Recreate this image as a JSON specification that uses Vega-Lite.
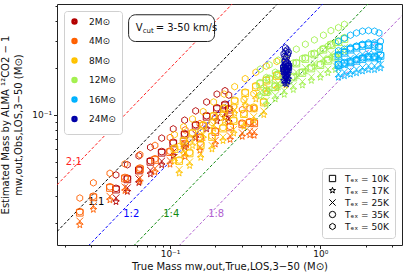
{
 "$schema":"https://vega.github.io/schema/vega-lite/v6.json",
 "width":345,"height":241,
 "autosize":{"type":"none"},
 "padding":{"left":57,"top":4,"right":5,"bottom":31},
 "background":"white",
 "config":{"font":"DejaVu Sans","view":{"stroke":"#222","strokeWidth":1},
  "axis":{"grid":false,"domain":false,"tickColor":"#222","labelColor":"#111","titleColor":"#111","titleFontWeight":"normal","labelFontSize":9,"titleFontSize":10},
  "legend":{"fillColor":"white","strokeColor":"#d0d0d0","cornerRadius":3,"labelFontSize":9,"labelColor":"#111"}
 },
 "datasets":{
  "lines":[
   {"r":"2:1","x":0.0177,"y":0.0354},{"r":"2:1","x":3.49,"y":6.98},
   {"r":"1:1","x":0.0177,"y":0.0177},{"r":"1:1","x":3.49,"y":3.49},
   {"r":"1:2","x":0.0177,"y":0.00885},{"r":"1:2","x":3.49,"y":1.745},
   {"r":"1:4","x":0.0177,"y":0.004425},{"r":"1:4","x":3.49,"y":0.8725},
   {"r":"1:8","x":0.0177,"y":0.0022125},{"r":"1:8","x":3.49,"y":0.43625}
  ],
  "labs":[
   {"r":"2:1","x":0.0229,"y":0.05},{"r":"1:1","x":0.0323,"y":0.0276},{"r":"1:2","x":0.0552,"y":0.0228},{"r":"1:4","x":0.1019,"y":0.0228},{"r":"1:8","x":0.2027,"y":0.0228}
  ],
  "box":[{"x":0.053,"x2":0.1977,"y":0.297,"y2":0.4416}],
  "vt":[{"x":0.0657,"y":0.364}],
  "pts":[
{"m":"2","t":"10","x":0.0437,"y":0.033},{"m":"2","t":"10","x":0.052,"y":0.0384},{"m":"2","t":"10","x":0.062,"y":0.0438},{"m":"2","t":"10","x":0.074,"y":0.0498},{"m":"2","t":"10","x":0.088,"y":0.057},{"m":"2","t":"10","x":0.105,"y":0.0654},{"m":"2","t":"10","x":0.125,"y":0.0744},{"m":"2","t":"10","x":0.148,"y":0.0852},{"m":"2","t":"10","x":0.175,"y":0.0972},{"m":"2","t":"10","x":0.205,"y":0.109},{"m":"2","t":"10","x":0.232,"y":0.115},{"m":"2","t":"10","x":0.246,"y":0.108},
{"m":"2","t":"17","x":0.0437,"y":0.0275},{"m":"2","t":"17","x":0.052,"y":0.032},{"m":"2","t":"17","x":0.062,"y":0.0365},{"m":"2","t":"17","x":0.074,"y":0.0415},{"m":"2","t":"17","x":0.088,"y":0.0475},{"m":"2","t":"17","x":0.105,"y":0.0545},{"m":"2","t":"17","x":0.125,"y":0.062},{"m":"2","t":"17","x":0.148,"y":0.071},{"m":"2","t":"17","x":0.175,"y":0.081},{"m":"2","t":"17","x":0.205,"y":0.091},{"m":"2","t":"17","x":0.232,"y":0.096},{"m":"2","t":"17","x":0.246,"y":0.09},
{"m":"2","t":"25","x":0.0437,"y":0.0292},{"m":"2","t":"25","x":0.052,"y":0.0339},{"m":"2","t":"25","x":0.062,"y":0.0387},{"m":"2","t":"25","x":0.074,"y":0.044},{"m":"2","t":"25","x":0.088,"y":0.0504},{"m":"2","t":"25","x":0.105,"y":0.0578},{"m":"2","t":"25","x":0.125,"y":0.0657},{"m":"2","t":"25","x":0.148,"y":0.0753},{"m":"2","t":"25","x":0.175,"y":0.0859},{"m":"2","t":"25","x":0.205,"y":0.0965},{"m":"2","t":"25","x":0.232,"y":0.102},{"m":"2","t":"25","x":0.246,"y":0.0954},
{"m":"2","t":"35","x":0.0437,"y":0.0336},{"m":"2","t":"35","x":0.052,"y":0.039},{"m":"2","t":"35","x":0.062,"y":0.0445},{"m":"2","t":"35","x":0.074,"y":0.0506},{"m":"2","t":"35","x":0.088,"y":0.058},{"m":"2","t":"35","x":0.105,"y":0.0665},{"m":"2","t":"35","x":0.125,"y":0.0756},{"m":"2","t":"35","x":0.148,"y":0.0866},{"m":"2","t":"35","x":0.175,"y":0.0988},{"m":"2","t":"35","x":0.205,"y":0.111},{"m":"2","t":"35","x":0.232,"y":0.117},{"m":"2","t":"35","x":0.246,"y":0.11},
{"m":"2","t":"50","x":0.0437,"y":0.041},{"m":"2","t":"50","x":0.052,"y":0.0477},{"m":"2","t":"50","x":0.062,"y":0.0544},{"m":"2","t":"50","x":0.074,"y":0.0618},{"m":"2","t":"50","x":0.088,"y":0.0708},{"m":"2","t":"50","x":0.105,"y":0.0812},{"m":"2","t":"50","x":0.125,"y":0.0924},{"m":"2","t":"50","x":0.148,"y":0.106},{"m":"2","t":"50","x":0.175,"y":0.121},{"m":"2","t":"50","x":0.205,"y":0.136},{"m":"2","t":"50","x":0.232,"y":0.143},{"m":"2","t":"50","x":0.246,"y":0.134},
{"m":"4","t":"10","x":0.0251,"y":0.0234},{"m":"4","t":"10","x":0.0309,"y":0.0294},{"m":"4","t":"10","x":0.0398,"y":0.0338},{"m":"4","t":"10","x":0.0501,"y":0.0389},{"m":"4","t":"10","x":0.0631,"y":0.0446},{"m":"4","t":"10","x":0.0794,"y":0.0512},{"m":"4","t":"10","x":0.1,"y":0.0575},{"m":"4","t":"10","x":0.126,"y":0.0644},{"m":"4","t":"10","x":0.158,"y":0.0707},{"m":"4","t":"10","x":0.2,"y":0.0775},{"m":"4","t":"10","x":0.251,"y":0.083},{"m":"4","t":"10","x":0.302,"y":0.0869},{"m":"4","t":"10","x":0.339,"y":0.0889},{"m":"4","t":"10","x":0.363,"y":0.0882},
{"m":"4","t":"17","x":0.0251,"y":0.0195},{"m":"4","t":"17","x":0.0309,"y":0.0245},{"m":"4","t":"17","x":0.0398,"y":0.0282},{"m":"4","t":"17","x":0.0501,"y":0.0324},{"m":"4","t":"17","x":0.0631,"y":0.0372},{"m":"4","t":"17","x":0.0794,"y":0.0427},{"m":"4","t":"17","x":0.1,"y":0.0479},{"m":"4","t":"17","x":0.126,"y":0.0537},{"m":"4","t":"17","x":0.158,"y":0.0589},{"m":"4","t":"17","x":0.2,"y":0.0646},{"m":"4","t":"17","x":0.251,"y":0.0692},{"m":"4","t":"17","x":0.302,"y":0.0724},{"m":"4","t":"17","x":0.339,"y":0.0741},{"m":"4","t":"17","x":0.363,"y":0.0735},
{"m":"4","t":"25","x":0.0251,"y":0.0207},{"m":"4","t":"25","x":0.0309,"y":0.026},{"m":"4","t":"25","x":0.0398,"y":0.0299},{"m":"4","t":"25","x":0.0501,"y":0.0343},{"m":"4","t":"25","x":0.0631,"y":0.0394},{"m":"4","t":"25","x":0.0794,"y":0.0453},{"m":"4","t":"25","x":0.1,"y":0.0508},{"m":"4","t":"25","x":0.126,"y":0.0569},{"m":"4","t":"25","x":0.158,"y":0.0624},{"m":"4","t":"25","x":0.2,"y":0.0685},{"m":"4","t":"25","x":0.251,"y":0.0734},{"m":"4","t":"25","x":0.302,"y":0.0767},{"m":"4","t":"25","x":0.339,"y":0.0785},{"m":"4","t":"25","x":0.363,"y":0.0779},
{"m":"4","t":"35","x":0.0251,"y":0.0238},{"m":"4","t":"35","x":0.0309,"y":0.0299},{"m":"4","t":"35","x":0.0398,"y":0.0344},{"m":"4","t":"35","x":0.0501,"y":0.0395},{"m":"4","t":"35","x":0.0631,"y":0.0454},{"m":"4","t":"35","x":0.0794,"y":0.0521},{"m":"4","t":"35","x":0.1,"y":0.0584},{"m":"4","t":"35","x":0.126,"y":0.0655},{"m":"4","t":"35","x":0.158,"y":0.0719},{"m":"4","t":"35","x":0.2,"y":0.0788},{"m":"4","t":"35","x":0.251,"y":0.0844},{"m":"4","t":"35","x":0.302,"y":0.0883},{"m":"4","t":"35","x":0.339,"y":0.0904},{"m":"4","t":"35","x":0.363,"y":0.0897},
{"m":"4","t":"50","x":0.0251,"y":0.0291},{"m":"4","t":"50","x":0.0309,"y":0.0365},{"m":"4","t":"50","x":0.0398,"y":0.042},{"m":"4","t":"50","x":0.0501,"y":0.0483},{"m":"4","t":"50","x":0.0631,"y":0.0554},{"m":"4","t":"50","x":0.0794,"y":0.0636},{"m":"4","t":"50","x":0.1,"y":0.0714},{"m":"4","t":"50","x":0.126,"y":0.08},{"m":"4","t":"50","x":0.158,"y":0.0878},{"m":"4","t":"50","x":0.2,"y":0.0963},{"m":"4","t":"50","x":0.251,"y":0.103},{"m":"4","t":"50","x":0.302,"y":0.108},{"m":"4","t":"50","x":0.339,"y":0.11},{"m":"4","t":"50","x":0.363,"y":0.11},
{"m":"8","t":"10","x":0.107,"y":0.0601},{"m":"8","t":"10","x":0.123,"y":0.0674},{"m":"8","t":"10","x":0.141,"y":0.0757},{"m":"8","t":"10","x":0.166,"y":0.085},{"m":"8","t":"10","x":0.195,"y":0.0976},{"m":"8","t":"10","x":0.229,"y":0.109},{"m":"8","t":"10","x":0.269,"y":0.122},{"m":"8","t":"10","x":0.316,"y":0.138},{"m":"8","t":"10","x":0.372,"y":0.151},{"m":"8","t":"10","x":0.437,"y":0.166},{"m":"8","t":"10","x":0.513,"y":0.178},{"m":"8","t":"10","x":0.589,"y":0.186},
{"m":"8","t":"10","x":0.115,"y":0.0504},{"m":"8","t":"10","x":0.135,"y":0.0564},{"m":"8","t":"10","x":0.16,"y":0.0636},{"m":"8","t":"10","x":0.19,"y":0.072},{"m":"8","t":"10","x":0.225,"y":0.0816},{"m":"8","t":"10","x":0.265,"y":0.0912},{"m":"8","t":"10","x":0.31,"y":0.101},{"m":"8","t":"10","x":0.36,"y":0.11},{"m":"8","t":"10","x":0.42,"y":0.12},
{"m":"8","t":"17","x":0.107,"y":0.0501},{"m":"8","t":"17","x":0.123,"y":0.0562},{"m":"8","t":"17","x":0.141,"y":0.0631},{"m":"8","t":"17","x":0.166,"y":0.0708},{"m":"8","t":"17","x":0.195,"y":0.0813},{"m":"8","t":"17","x":0.229,"y":0.0912},{"m":"8","t":"17","x":0.269,"y":0.102},{"m":"8","t":"17","x":0.316,"y":0.115},{"m":"8","t":"17","x":0.372,"y":0.126},{"m":"8","t":"17","x":0.437,"y":0.138},{"m":"8","t":"17","x":0.513,"y":0.148},{"m":"8","t":"17","x":0.589,"y":0.155},
{"m":"8","t":"17","x":0.115,"y":0.042},{"m":"8","t":"17","x":0.135,"y":0.047},{"m":"8","t":"17","x":0.16,"y":0.053},{"m":"8","t":"17","x":0.19,"y":0.06},{"m":"8","t":"17","x":0.225,"y":0.068},{"m":"8","t":"17","x":0.265,"y":0.076},{"m":"8","t":"17","x":0.31,"y":0.084},{"m":"8","t":"17","x":0.36,"y":0.092},{"m":"8","t":"17","x":0.42,"y":0.1},
{"m":"8","t":"25","x":0.107,"y":0.0531},{"m":"8","t":"25","x":0.123,"y":0.0596},{"m":"8","t":"25","x":0.141,"y":0.0669},{"m":"8","t":"25","x":0.166,"y":0.075},{"m":"8","t":"25","x":0.195,"y":0.0862},{"m":"8","t":"25","x":0.229,"y":0.0967},{"m":"8","t":"25","x":0.269,"y":0.108},{"m":"8","t":"25","x":0.316,"y":0.122},{"m":"8","t":"25","x":0.372,"y":0.134},{"m":"8","t":"25","x":0.437,"y":0.146},{"m":"8","t":"25","x":0.513,"y":0.157},{"m":"8","t":"25","x":0.589,"y":0.164},
{"m":"8","t":"25","x":0.115,"y":0.0445},{"m":"8","t":"25","x":0.135,"y":0.0498},{"m":"8","t":"25","x":0.16,"y":0.0562},{"m":"8","t":"25","x":0.19,"y":0.0636},{"m":"8","t":"25","x":0.225,"y":0.0721},{"m":"8","t":"25","x":0.265,"y":0.0806},{"m":"8","t":"25","x":0.31,"y":0.089},{"m":"8","t":"25","x":0.36,"y":0.0975},{"m":"8","t":"25","x":0.42,"y":0.106},
{"m":"8","t":"35","x":0.107,"y":0.0611},{"m":"8","t":"35","x":0.123,"y":0.0686},{"m":"8","t":"35","x":0.141,"y":0.077},{"m":"8","t":"35","x":0.166,"y":0.0864},{"m":"8","t":"35","x":0.195,"y":0.0992},{"m":"8","t":"35","x":0.229,"y":0.111},{"m":"8","t":"35","x":0.269,"y":0.124},{"m":"8","t":"35","x":0.316,"y":0.14},{"m":"8","t":"35","x":0.372,"y":0.154},{"m":"8","t":"35","x":0.437,"y":0.168},{"m":"8","t":"35","x":0.513,"y":0.181},{"m":"8","t":"35","x":0.589,"y":0.189},
{"m":"8","t":"35","x":0.115,"y":0.0512},{"m":"8","t":"35","x":0.135,"y":0.0573},{"m":"8","t":"35","x":0.16,"y":0.0647},{"m":"8","t":"35","x":0.19,"y":0.0732},{"m":"8","t":"35","x":0.225,"y":0.083},{"m":"8","t":"35","x":0.265,"y":0.0927},{"m":"8","t":"35","x":0.31,"y":0.102},{"m":"8","t":"35","x":0.36,"y":0.112},{"m":"8","t":"35","x":0.42,"y":0.122},
{"m":"8","t":"50","x":0.107,"y":0.0746},{"m":"8","t":"50","x":0.123,"y":0.0837},{"m":"8","t":"50","x":0.141,"y":0.094},{"m":"8","t":"50","x":0.166,"y":0.105},{"m":"8","t":"50","x":0.195,"y":0.121},{"m":"8","t":"50","x":0.229,"y":0.136},{"m":"8","t":"50","x":0.269,"y":0.152},{"m":"8","t":"50","x":0.316,"y":0.171},{"m":"8","t":"50","x":0.372,"y":0.188},{"m":"8","t":"50","x":0.437,"y":0.206},{"m":"8","t":"50","x":0.513,"y":0.221},{"m":"8","t":"50","x":0.589,"y":0.231},
{"m":"8","t":"50","x":0.115,"y":0.0626},{"m":"8","t":"50","x":0.135,"y":0.07},{"m":"8","t":"50","x":0.16,"y":0.079},{"m":"8","t":"50","x":0.19,"y":0.0894},{"m":"8","t":"50","x":0.225,"y":0.101},{"m":"8","t":"50","x":0.265,"y":0.113},{"m":"8","t":"50","x":0.31,"y":0.125},{"m":"8","t":"50","x":0.36,"y":0.137},{"m":"8","t":"50","x":0.42,"y":0.149},
{"m":"12","t":"10","x":0.398,"y":0.158},{"m":"12","t":"10","x":0.457,"y":0.169},{"m":"12","t":"10","x":0.525,"y":0.181},{"m":"12","t":"10","x":0.603,"y":0.199},{"m":"12","t":"10","x":0.692,"y":0.214},{"m":"12","t":"10","x":0.794,"y":0.229},{"m":"12","t":"10","x":0.912,"y":0.245},{"m":"12","t":"10","x":1.047,"y":0.263},{"m":"12","t":"10","x":1.175,"y":0.281},{"m":"12","t":"10","x":1.318,"y":0.294},{"m":"12","t":"10","x":1.445,"y":0.308},
{"m":"12","t":"10","x":0.437,"y":0.14},{"m":"12","t":"10","x":0.501,"y":0.151},{"m":"12","t":"10","x":0.575,"y":0.162},{"m":"12","t":"10","x":0.661,"y":0.174},{"m":"12","t":"10","x":0.759,"y":0.186},{"m":"12","t":"10","x":0.871,"y":0.199},{"m":"12","t":"10","x":1.0,"y":0.209},{"m":"12","t":"10","x":1.122,"y":0.223},{"m":"12","t":"10","x":1.259,"y":0.234},
{"m":"12","t":"17","x":0.398,"y":0.132},{"m":"12","t":"17","x":0.457,"y":0.141},{"m":"12","t":"17","x":0.525,"y":0.151},{"m":"12","t":"17","x":0.603,"y":0.166},{"m":"12","t":"17","x":0.692,"y":0.178},{"m":"12","t":"17","x":0.794,"y":0.191},{"m":"12","t":"17","x":0.912,"y":0.204},{"m":"12","t":"17","x":1.047,"y":0.219},{"m":"12","t":"17","x":1.175,"y":0.234},{"m":"12","t":"17","x":1.318,"y":0.245},{"m":"12","t":"17","x":1.445,"y":0.257},
{"m":"12","t":"17","x":0.437,"y":0.117},{"m":"12","t":"17","x":0.501,"y":0.126},{"m":"12","t":"17","x":0.575,"y":0.135},{"m":"12","t":"17","x":0.661,"y":0.145},{"m":"12","t":"17","x":0.759,"y":0.155},{"m":"12","t":"17","x":0.871,"y":0.166},{"m":"12","t":"17","x":1.0,"y":0.174},{"m":"12","t":"17","x":1.122,"y":0.186},{"m":"12","t":"17","x":1.259,"y":0.195},
{"m":"12","t":"25","x":0.398,"y":0.14},{"m":"12","t":"25","x":0.457,"y":0.149},{"m":"12","t":"25","x":0.525,"y":0.16},{"m":"12","t":"25","x":0.603,"y":0.176},{"m":"12","t":"25","x":0.692,"y":0.189},{"m":"12","t":"25","x":0.794,"y":0.202},{"m":"12","t":"25","x":0.912,"y":0.216},{"m":"12","t":"25","x":1.047,"y":0.232},{"m":"12","t":"25","x":1.175,"y":0.248},{"m":"12","t":"25","x":1.318,"y":0.26},{"m":"12","t":"25","x":1.445,"y":0.272},
{"m":"12","t":"25","x":0.437,"y":0.124},{"m":"12","t":"25","x":0.501,"y":0.134},{"m":"12","t":"25","x":0.575,"y":0.143},{"m":"12","t":"25","x":0.661,"y":0.154},{"m":"12","t":"25","x":0.759,"y":0.164},{"m":"12","t":"25","x":0.871,"y":0.176},{"m":"12","t":"25","x":1.0,"y":0.184},{"m":"12","t":"25","x":1.122,"y":0.197},{"m":"12","t":"25","x":1.259,"y":0.207},
{"m":"12","t":"35","x":0.398,"y":0.161},{"m":"12","t":"35","x":0.457,"y":0.172},{"m":"12","t":"35","x":0.525,"y":0.184},{"m":"12","t":"35","x":0.603,"y":0.203},{"m":"12","t":"35","x":0.692,"y":0.217},{"m":"12","t":"35","x":0.794,"y":0.233},{"m":"12","t":"35","x":0.912,"y":0.249},{"m":"12","t":"35","x":1.047,"y":0.267},{"m":"12","t":"35","x":1.175,"y":0.285},{"m":"12","t":"35","x":1.318,"y":0.299},{"m":"12","t":"35","x":1.445,"y":0.314},
{"m":"12","t":"35","x":0.437,"y":0.143},{"m":"12","t":"35","x":0.501,"y":0.154},{"m":"12","t":"35","x":0.575,"y":0.165},{"m":"12","t":"35","x":0.661,"y":0.177},{"m":"12","t":"35","x":0.759,"y":0.189},{"m":"12","t":"35","x":0.871,"y":0.203},{"m":"12","t":"35","x":1.0,"y":0.212},{"m":"12","t":"35","x":1.122,"y":0.227},{"m":"12","t":"35","x":1.259,"y":0.238},
{"m":"12","t":"50","x":0.398,"y":0.197},{"m":"12","t":"50","x":0.457,"y":0.21},{"m":"12","t":"50","x":0.525,"y":0.225},{"m":"12","t":"50","x":0.603,"y":0.247},{"m":"12","t":"50","x":0.692,"y":0.265},{"m":"12","t":"50","x":0.794,"y":0.285},{"m":"12","t":"50","x":0.912,"y":0.304},{"m":"12","t":"50","x":1.047,"y":0.326},{"m":"12","t":"50","x":1.175,"y":0.349},{"m":"12","t":"50","x":1.318,"y":0.365},{"m":"12","t":"50","x":1.445,"y":0.383},
{"m":"12","t":"50","x":0.437,"y":0.174},{"m":"12","t":"50","x":0.501,"y":0.188},{"m":"12","t":"50","x":0.575,"y":0.201},{"m":"12","t":"50","x":0.661,"y":0.216},{"m":"12","t":"50","x":0.759,"y":0.231},{"m":"12","t":"50","x":0.871,"y":0.247},{"m":"12","t":"50","x":1.0,"y":0.259},{"m":"12","t":"50","x":1.122,"y":0.277},{"m":"12","t":"50","x":1.259,"y":0.291},
{"m":"16","t":"10","x":1.318,"y":0.24},{"m":"16","t":"10","x":1.445,"y":0.251},{"m":"16","t":"10","x":1.585,"y":0.263},{"m":"16","t":"10","x":1.738,"y":0.271},{"m":"16","t":"10","x":1.905,"y":0.278},{"m":"16","t":"10","x":2.089,"y":0.281},{"m":"16","t":"10","x":2.291,"y":0.278},{"m":"16","t":"10","x":2.455,"y":0.271},
{"m":"16","t":"10","x":1.318,"y":0.209},{"m":"16","t":"10","x":1.445,"y":0.214},{"m":"16","t":"10","x":1.585,"y":0.218},{"m":"16","t":"10","x":1.738,"y":0.223},{"m":"16","t":"10","x":1.905,"y":0.229},{"m":"16","t":"10","x":2.089,"y":0.234},{"m":"16","t":"10","x":2.291,"y":0.234},{"m":"16","t":"10","x":2.512,"y":0.24},
{"m":"16","t":"17","x":1.318,"y":0.2},{"m":"16","t":"17","x":1.445,"y":0.209},{"m":"16","t":"17","x":1.585,"y":0.219},{"m":"16","t":"17","x":1.738,"y":0.226},{"m":"16","t":"17","x":1.905,"y":0.232},{"m":"16","t":"17","x":2.089,"y":0.234},{"m":"16","t":"17","x":2.291,"y":0.232},{"m":"16","t":"17","x":2.455,"y":0.226},
{"m":"16","t":"17","x":1.318,"y":0.174},{"m":"16","t":"17","x":1.445,"y":0.178},{"m":"16","t":"17","x":1.585,"y":0.182},{"m":"16","t":"17","x":1.738,"y":0.186},{"m":"16","t":"17","x":1.905,"y":0.191},{"m":"16","t":"17","x":2.089,"y":0.195},{"m":"16","t":"17","x":2.291,"y":0.195},{"m":"16","t":"17","x":2.512,"y":0.2},
{"m":"16","t":"25","x":1.318,"y":0.212},{"m":"16","t":"25","x":1.445,"y":0.222},{"m":"16","t":"25","x":1.585,"y":0.232},{"m":"16","t":"25","x":1.738,"y":0.24},{"m":"16","t":"25","x":1.905,"y":0.246},{"m":"16","t":"25","x":2.089,"y":0.248},{"m":"16","t":"25","x":2.291,"y":0.246},{"m":"16","t":"25","x":2.455,"y":0.24},
{"m":"16","t":"25","x":1.318,"y":0.184},{"m":"16","t":"25","x":1.445,"y":0.189},{"m":"16","t":"25","x":1.585,"y":0.193},{"m":"16","t":"25","x":1.738,"y":0.197},{"m":"16","t":"25","x":1.905,"y":0.202},{"m":"16","t":"25","x":2.089,"y":0.207},{"m":"16","t":"25","x":2.291,"y":0.207},{"m":"16","t":"25","x":2.512,"y":0.212},
{"m":"16","t":"35","x":1.318,"y":0.244},{"m":"16","t":"35","x":1.445,"y":0.255},{"m":"16","t":"35","x":1.585,"y":0.267},{"m":"16","t":"35","x":1.738,"y":0.276},{"m":"16","t":"35","x":1.905,"y":0.283},{"m":"16","t":"35","x":2.089,"y":0.285},{"m":"16","t":"35","x":2.291,"y":0.283},{"m":"16","t":"35","x":2.455,"y":0.276},
{"m":"16","t":"35","x":1.318,"y":0.212},{"m":"16","t":"35","x":1.445,"y":0.217},{"m":"16","t":"35","x":1.585,"y":0.222},{"m":"16","t":"35","x":1.738,"y":0.227},{"m":"16","t":"35","x":1.905,"y":0.233},{"m":"16","t":"35","x":2.089,"y":0.238},{"m":"16","t":"35","x":2.291,"y":0.238},{"m":"16","t":"35","x":2.512,"y":0.244},
{"m":"16","t":"50","x":1.318,"y":0.298},{"m":"16","t":"50","x":1.445,"y":0.311},{"m":"16","t":"50","x":1.585,"y":0.326},{"m":"16","t":"50","x":1.738,"y":0.337},{"m":"16","t":"50","x":1.905,"y":0.346},{"m":"16","t":"50","x":2.089,"y":0.349},{"m":"16","t":"50","x":2.291,"y":0.346},{"m":"16","t":"50","x":2.455,"y":0.337},
{"m":"16","t":"50","x":1.318,"y":0.259},{"m":"16","t":"50","x":1.445,"y":0.265},{"m":"16","t":"50","x":1.585,"y":0.271},{"m":"16","t":"50","x":1.738,"y":0.277},{"m":"16","t":"50","x":1.905,"y":0.285},{"m":"16","t":"50","x":2.089,"y":0.291},{"m":"16","t":"50","x":2.291,"y":0.291},{"m":"16","t":"50","x":2.512,"y":0.298},
{"m":"24","t":"10","x":0.572,"y":0.199},{"m":"24","t":"10","x":0.58,"y":0.192},{"m":"24","t":"10","x":0.588,"y":0.206},{"m":"24","t":"10","x":0.595,"y":0.19},{"m":"24","t":"10","x":0.6,"y":0.211},{"m":"24","t":"10","x":0.606,"y":0.197},{"m":"24","t":"10","x":0.585,"y":0.217},{"m":"24","t":"10","x":0.612,"y":0.204},
{"m":"24","t":"17","x":0.572,"y":0.166},{"m":"24","t":"17","x":0.58,"y":0.16},{"m":"24","t":"17","x":0.588,"y":0.172},{"m":"24","t":"17","x":0.595,"y":0.158},{"m":"24","t":"17","x":0.6,"y":0.176},{"m":"24","t":"17","x":0.606,"y":0.164},{"m":"24","t":"17","x":0.585,"y":0.181},{"m":"24","t":"17","x":0.612,"y":0.17},
{"m":"24","t":"25","x":0.572,"y":0.176},{"m":"24","t":"25","x":0.58,"y":0.17},{"m":"24","t":"25","x":0.588,"y":0.182},{"m":"24","t":"25","x":0.595,"y":0.167},{"m":"24","t":"25","x":0.6,"y":0.187},{"m":"24","t":"25","x":0.606,"y":0.174},{"m":"24","t":"25","x":0.585,"y":0.192},{"m":"24","t":"25","x":0.612,"y":0.18},
{"m":"24","t":"35","x":0.572,"y":0.203},{"m":"24","t":"35","x":0.58,"y":0.195},{"m":"24","t":"35","x":0.588,"y":0.21},{"m":"24","t":"35","x":0.595,"y":0.193},{"m":"24","t":"35","x":0.6,"y":0.215},{"m":"24","t":"35","x":0.606,"y":0.2},{"m":"24","t":"35","x":0.585,"y":0.221},{"m":"24","t":"35","x":0.612,"y":0.207},
{"m":"24","t":"50","x":0.572,"y":0.247},{"m":"24","t":"50","x":0.58,"y":0.238},{"m":"24","t":"50","x":0.588,"y":0.256},{"m":"24","t":"50","x":0.595,"y":0.235},{"m":"24","t":"50","x":0.6,"y":0.262},{"m":"24","t":"50","x":0.606,"y":0.244},{"m":"24","t":"50","x":0.585,"y":0.27},{"m":"24","t":"50","x":0.612,"y":0.253}
  ]
 },
 "encoding":{
  "x":{"field":"x","type":"quantitative","scale":{"type":"log","domain":[0.0177,3.49],"nice":false},
   "axis":{"title":"True Mass mw,out,True,LOS,3−50 (M⊙)","values":[0.02,0.03,0.04,0.05,0.06,0.07,0.08,0.09,0.1,0.2,0.3,0.4,0.5,0.6,0.7,0.8,0.9,1,2,3],
    "labelExpr":"datum.value == 0.1 ? '10⁻¹' : datum.value == 1 ? '10⁰' : ''",
    "tickSize":{"condition":{"test":"datum.value == 0.1 || datum.value == 1","value":3.5},"value":2},
    "labelPadding":1,"titlePadding":3,"labelOverlap":false,"labelFlush":false}},
  "y":{"field":"y","type":"quantitative","scale":{"type":"log","domain":[0.0145,0.518],"nice":false},
   "axis":{"title":["Estimated Mass by ALMA ¹²CO2 − 1","mw,out,Obs,LOS,3−50 (M⊙)"],"values":[0.02,0.03,0.04,0.05,0.06,0.07,0.08,0.09,0.1,0.2,0.3,0.4,0.5],
    "labelExpr":"datum.value == 0.1 ? '10⁻¹' : ''",
    "tickSize":{"condition":{"test":"datum.value == 0.1","value":3.5},"value":2},
    "labelPadding":2,"titlePadding":8,"titleLineHeight":13,"labelOverlap":false,"labelFlush":false}}
 },
 "layer":[
  {"data":{"name":"lines"},"mark":{"type":"line","strokeDash":[3,2],"strokeWidth":1,"clip":true},
   "encoding":{"detail":{"field":"r"},"stroke":{"field":"r","type":"nominal","scale":{"domain":["2:1","1:1","1:2","1:4","1:8"],"range":["#ff1f1f","#000000","#0000ff","#108a10","#b060d0"]},"legend":null}}},
  {"data":{"name":"labs"},"mark":{"type":"text","fontSize":10},
   "encoding":{"text":{"field":"r"},"fill":{"field":"r","type":"nominal","scale":{"domain":["2:1","1:1","1:2","1:4","1:8"],"range":["#ff1f1f","#000000","#0000ff","#108a10","#b060d0"]},"legend":null}}},
  {"data":{"name":"pts"},"mark":{"type":"point","filled":false,"size":45,"strokeWidth":0.9,"opacity":1},
   "encoding":{
    "color":{"field":"m","type":"nominal","scale":{"domain":["2","4","8","12","16","24"],"range":["#b30000","#ff6000","#ffc200","#a3f04f","#00b2ff","#0000a8"]},
     "legend":{"title":null,"orient":"top-left","offset":7,"symbolType":"circle","symbolSize":9,"labelExpr":"datum.label + 'M⊙'","rowPadding":2.5,"padding":6,"labelOffset":10,"symbolStrokeWidth":3.4}},
    "shape":{"field":"t","type":"nominal","scale":{"domain":["10","17","25","35","50"],"range":["square","M0,-1L0.235,-0.324L0.951,-0.309L0.38,0.124L0.588,0.809L0,0.4L-0.588,0.809L-0.38,0.124L-0.951,-0.309L-0.235,-0.324Z","M-1,-1L1,1M-1,1L1,-1","circle","M0,-1L0.866,-0.5L0.866,0.5L0,1L-0.866,0.5L-0.866,-0.5Z"]},
     "legend":{"title":null,"orient":"bottom-right","offset":7,"symbolStrokeColor":"black","symbolFillColor":"transparent","symbolSize":40,"symbolStrokeWidth":1,"labelExpr":"'Tₑₓ = ' + datum.label + 'K'","rowPadding":1,"padding":6,"labelOffset":8}}
   }},
  {"data":{"name":"box"},"mark":{"type":"rect","fill":"white","stroke":"#222","strokeWidth":1,"cornerRadius":7},
   "encoding":{"x2":{"field":"x2"},"y2":{"field":"y2"}}},
  {"data":{"name":"vt"},"mark":{"type":"text","text":"V","align":"right","baseline":"middle","fontSize":10,"color":"#111"},"encoding":{}},
  {"data":{"name":"vt"},"mark":{"type":"text","text":"cut","align":"left","baseline":"middle","fontSize":7,"dy":3,"color":"#111"},"encoding":{}},
  {"data":{"name":"vt"},"mark":{"type":"text","text":"= 3-50 km/s","align":"left","baseline":"middle","fontSize":10,"dx":13,"color":"#111"},"encoding":{}}
 ]
}
